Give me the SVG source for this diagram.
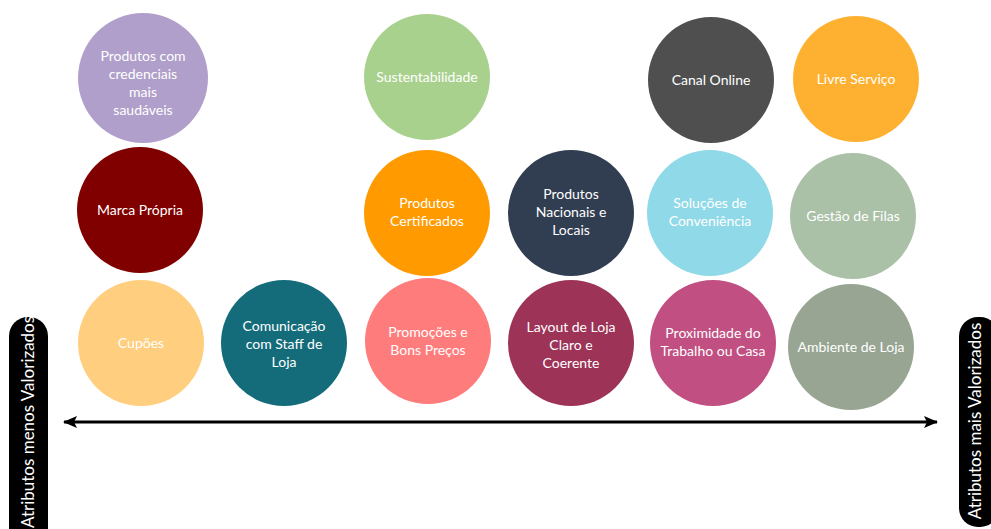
<svg xmlns="http://www.w3.org/2000/svg" width="991" height="529" viewBox="0 0 991 529">
  <style>
    .lbl { font-family: Lato, "Open Sans", "Liberation Sans", sans-serif; font-size: 14px; fill: #ffffff; text-anchor: middle; }
    .side { font-family: Lato, "Open Sans", "Liberation Sans", sans-serif; font-size: 17px; fill: #ffffff; text-anchor: middle; }
    .axis { stroke: #000000; stroke-width: 3; fill: none; }
  </style>
  <defs>
    <!-- arrowhead used at both ends of the axis -->
    <marker id="head" viewBox="0 0 14 12" refX="13" refY="6" markerWidth="4.7" markerHeight="4" markerUnits="strokeWidth" orient="auto-start-reverse">
      <path d="M0,0 L14,6 L0,12 L3,6 Z" fill="#000000"/>
    </marker>
  </defs>
  <rect width="991" height="529" fill="#ffffff"/>

  <!-- row 1 -->
  <g id="n-credenciais">
    <circle cx="143" cy="78" r="65" fill="#B09FCA"/>
    <text class="lbl" x="143" y="61">Produtos com</text>
    <text class="lbl" x="143" y="79">credenciais</text>
    <text class="lbl" x="143" y="97">mais</text>
    <text class="lbl" x="143" y="115">saudáveis</text>
  </g>
  <g id="n-sustentabilidade">
    <circle cx="427" cy="77" r="63" fill="#A9D18E"/>
    <text class="lbl" x="427" y="82">Sustentabilidade</text>
  </g>
  <g id="n-canal">
    <circle cx="711" cy="80" r="63" fill="#4F4F4F"/>
    <text class="lbl" x="711" y="85">Canal Online</text>
  </g>
  <g id="n-livre">
    <circle cx="856" cy="79" r="63" fill="#FEB130"/>
    <text class="lbl" x="856" y="84">Livre Serviço</text>
  </g>

  <!-- row 2 -->
  <g id="n-marca">
    <circle cx="140" cy="210" r="63" fill="#800000"/>
    <text class="lbl" x="140" y="215">Marca Própria</text>
  </g>
  <g id="n-certificados">
    <circle cx="427" cy="213" r="63" fill="#FF9A00"/>
    <text class="lbl" x="427" y="208">Produtos</text>
    <text class="lbl" x="427" y="226">Certificados</text>
  </g>
  <g id="n-nacionais">
    <circle cx="571" cy="213" r="63" fill="#313D50"/>
    <text class="lbl" x="571" y="199">Produtos</text>
    <text class="lbl" x="571" y="217">Nacionais e</text>
    <text class="lbl" x="571" y="235">Locais</text>
  </g>
  <g id="n-conveniencia">
    <circle cx="710" cy="213" r="63" fill="#90D9E8"/>
    <text class="lbl" x="710" y="208">Soluções de</text>
    <text class="lbl" x="710" y="226">Conveniência</text>
  </g>
  <g id="n-filas">
    <circle cx="853" cy="216" r="63" fill="#AAC1A7"/>
    <text class="lbl" x="853" y="221">Gestão de Filas</text>
  </g>

  <!-- row 3 -->
  <g id="n-cupoes">
    <circle cx="141" cy="343" r="63" fill="#FFCE7E"/>
    <text class="lbl" x="141" y="348">Cupões</text>
  </g>
  <g id="n-staff">
    <circle cx="284" cy="343" r="63" fill="#146C7B"/>
    <text class="lbl" x="284" y="331">Comunicação</text>
    <text class="lbl" x="284" y="349">com Staff de</text>
    <text class="lbl" x="284" y="367">Loja</text>
  </g>
  <g id="n-promocoes">
    <circle cx="428" cy="341" r="63" fill="#FF7C7C"/>
    <text class="lbl" x="428" y="337">Promoções e</text>
    <text class="lbl" x="428" y="355">Bons Preços</text>
  </g>
  <g id="n-layout">
    <circle cx="571" cy="343" r="63" fill="#9D3457"/>
    <text class="lbl" x="571" y="332">Layout de Loja</text>
    <text class="lbl" x="571" y="350">Claro e</text>
    <text class="lbl" x="571" y="368">Coerente</text>
  </g>
  <g id="n-proximidade">
    <circle cx="713" cy="343" r="63" fill="#C14F81"/>
    <text class="lbl" x="713" y="338">Proximidade do</text>
    <text class="lbl" x="713" y="356">Trabalho ou Casa</text>
  </g>
  <g id="n-ambiente">
    <circle cx="851" cy="347" r="63" fill="#97A592"/>
    <text class="lbl" x="851" y="352">Ambiente de Loja</text>
  </g>

  <!-- axis -->
  <g id="connectors">
    <line class="axis" x1="64" y1="422" x2="937" y2="422" marker-start="url(#head)" marker-end="url(#head)"/>
  </g>

  <!-- axis end labels -->
  <g id="n-menos">
    <rect x="9" y="317" width="39" height="230" rx="19" fill="#000000"/>
    <text class="side" transform="translate(34,422) rotate(-90)">Atributos menos Valorizados</text>
  </g>
  <g id="n-mais">
    <rect x="959" y="317" width="40" height="210" rx="19" fill="#000000"/>
    <text class="side" transform="translate(981,421) rotate(-90)">Atributos mais Valorizados</text>
  </g>
</svg>
